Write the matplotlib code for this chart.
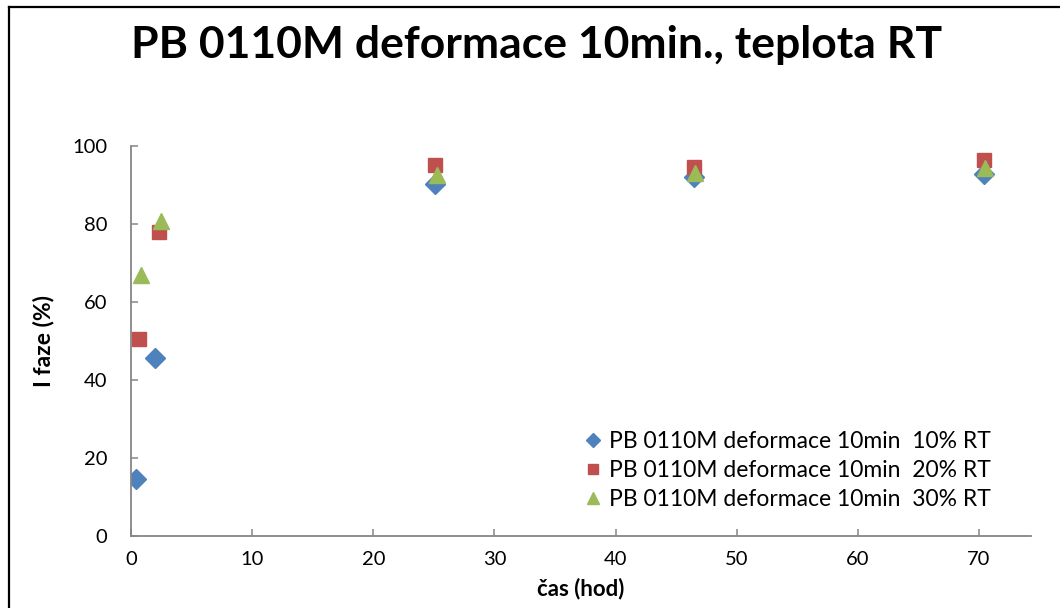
import matplotlib
matplotlib.use("Agg")
import matplotlib.pyplot as plt
from matplotlib.lines import Line2D

plt.rcParams['font.family'] = ['Lato', 'DejaVu Sans']

# Measured phase fraction over time for three deformation levels
time_10 = [0.44, 1.98, 25.1, 46.5, 70.4]
faze_10 = [14.6, 45.7, 90.3, 92.0, 92.8]

time_20 = [0.66, 2.31, 25.1, 46.5, 70.4]
faze_20 = [50.5, 78.0, 95.1, 94.7, 96.3]

time_30 = [0.83, 2.48, 25.3, 46.6, 70.5]
faze_30 = [67.0, 80.7, 92.6, 93.1, 94.4]

labels = [
    "PB 0110M deformace 10min  10% RT",
    "PB 0110M deformace 10min  20% RT",
    "PB 0110M deformace 10min  30% RT",
]
x_ticks = [0, 10, 20, 30, 40, 50, 60, 70]
y_ticks = [0, 20, 40, 60, 80, 100]

W, H = 1060, 608
fig = plt.figure(figsize=(W / 100, H / 100), dpi=100)

# chart-area border (open at right and bottom edge of the image)
fig.add_artist(Line2D([9 / W, 9 / W], [0, 1 - 7 / H], transform=fig.transFigure,
                      color='black', lw=1.6))
fig.add_artist(Line2D([9 / W, 1], [1 - 7 / H, 1 - 7 / H], transform=fig.transFigure,
                      color='black', lw=1.6))

ax = fig.add_axes([131 / W, 1 - 536 / H, (1031 - 131) / W, (536 - 146) / H])

ax.plot(time_10, faze_10, linestyle='none', marker='D', markersize=10,
        color='#4F81BD', label=labels[0])
ax.plot(time_20, faze_20, linestyle='none', marker='s', markersize=10.5,
        color='#C0504D', label=labels[1])
ax.plot(time_30, faze_30, linestyle='none', marker='^', markersize=11,
        color='#9BBB59', label=labels[2])

ax.set_xlim(0, 74.3)
ax.set_ylim(0, 100)
ax.set_xticks(x_ticks)
ax.set_yticks(y_ticks)

for side in ('top', 'right'):
    ax.spines[side].set_visible(False)
for side in ('left', 'bottom'):
    ax.spines[side].set_color('#868686')
    ax.spines[side].set_linewidth(1.3)

ax.tick_params(axis='both', direction='in', length=5, width=1.1, color='#868686',
               labelsize=14.5, labelcolor='black')
ax.tick_params(axis='x', pad=11)
ax.tick_params(axis='y', pad=17)

ax.set_xlabel("čas (hod)", fontsize=16, fontweight='bold', labelpad=7)
ax.set_ylabel("I faze (%)", fontsize=16.5, fontweight='bold', labelpad=13)

fig.text(537 / W, 1 - 45 / H, "PB 0110M deformace 10min., teplota RT",
         ha='center', va='center', fontsize=32, fontweight='bold')

ax.legend(loc='upper left', bbox_to_anchor=(572 / W, 1 - 420 / H),
          bbox_transform=fig.transFigure, frameon=False, fontsize=16.5,
          borderpad=0, handlelength=0.8, handletextpad=0.3, labelspacing=0.35,
          markerscale=0.75)

fig.savefig("out.png", dpi=100)
